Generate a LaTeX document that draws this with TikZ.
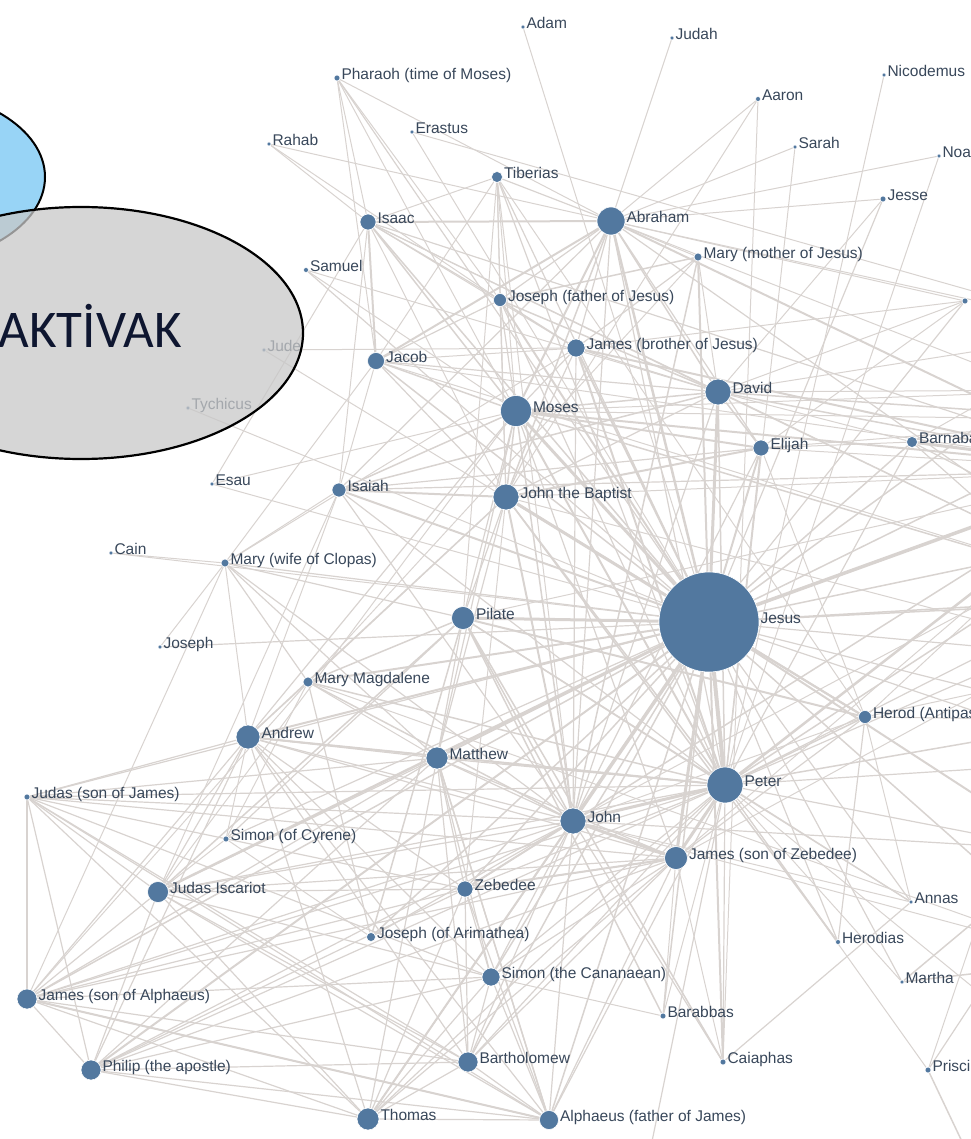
\documentclass[tikz,border=0pt]{standalone}
\usepackage{fontspec}
\setmainfont{Liberation Sans}
\newfontfamily\carl{Carlito}
\definecolor{edgec}{HTML}{D8D3D0}
\definecolor{nodec}{HTML}{52789F}
\definecolor{lblc}{HTML}{38475A}
\definecolor{grayell}{HTML}{C8C8C8}
\definecolor{blueell}{HTML}{98D4F6}
\definecolor{bigtxt}{HTML}{0E1630}
\pgfdeclarelayer{edgelayer}
\pgfdeclarelayer{front}
\pgfsetlayers{edgelayer,main,front}
\begin{document}
\begin{tikzpicture}[x=1pt,y=-1pt,
  v/.style={circle,fill=nodec,draw=white,line width=0.6pt,inner sep=0pt,minimum size=#1},
  lbl/.style={font=\fontsize{15.5}{17}\selectfont,text=lblc,inner sep=0pt,anchor=base west,xshift=1pt,yshift=-1.5pt},
  e/.style={draw=edgec,line width=1.2pt}]
\useasboundingbox (0,0) rectangle (970,1139);
% ---------------- nodes ----------------
\node[v=4,label={[lbl]east:Adam}] (adam) at (523,27) {};
\node[v=4,label={[lbl]east:Judah}] (judah) at (672,38) {};
\node[v=6,label={[lbl]east:Pharaoh (time of Moses)}] (pharaoh) at (337,78) {};
\node[v=4,label={[lbl]east:Nicodemus}] (nicodemus) at (884,75) {};
\node[v=5,label={[lbl]east:Aaron}] (aaron) at (758,99) {};
\node[v=4,label={[lbl]east:Rahab}] (rahab) at (269,144) {};
\node[v=4,label={[lbl]east:Erastus}] (erastus) at (412,132) {};
\node[v=4,label={[lbl]east:Sarah}] (sarah) at (795,147) {};
\node[v=4,label={[lbl]east:Noah}] (noah) at (939,156) {};
\node[v=11,label={[lbl]east:Tiberias}] (tiberias) at (497,177) {};
\node[v=6,label={[lbl]east:Jesse}] (jesse) at (883,199) {};
\node[v=16,label={[lbl]east:Isaac}] (isaac) at (368,222) {};
\node[v=28,label={[lbl]east:Abraham}] (abraham) at (611,221) {};
\node[v=5,label={[lbl]east:Samuel}] (samuel) at (306,270) {};
\node[v=8,label={[lbl]east:Mary (mother of Jesus)}] (marymother) at (698,257) {};
\node[v=13,label={[lbl]east:Joseph (father of Jesus)}] (josephf) at (500,300) {};
\node[v=6] (rdot) at (965,301) {};
\node[v=4,label={[lbl]east:Jude}] (jude) at (264,350) {};
\node[v=17,label={[lbl]east:Jacob}] (jacob) at (376,361) {};
\node[v=18,label={[lbl]east:James (brother of Jesus)}] (jamesb) at (576,348) {};
\node[v=26,label={[lbl]east:David}] (david) at (718,392) {};
\node[v=31,label={[lbl]east:Moses}] (moses) at (516,411) {};
\node[v=4,label={[lbl]east:Tychicus}] (tychicus) at (188,408) {};
\node[v=16,label={[lbl]east:Elijah}] (elijah) at (761,448) {};
\node[v=11,label={[lbl]east:Barnabas}] (barnabas) at (912,442) {};
\node[v=4,label={[lbl]east:Esau}] (esau) at (212,484) {};
\node[v=14,label={[lbl]east:Isaiah}] (isaiah) at (339,490) {};
\node[v=26,label={[lbl]east:John the Baptist}] (jbaptist) at (506,497) {};
\node[v=4,label={[lbl]east:Cain}] (cain) at (111,553) {};
\node[v=8,label={[lbl]east:Mary (wife of Clopas)}] (maryclopas) at (225,563) {};
\node[v=23,label={[lbl]east:Pilate}] (pilate) at (463,618) {};
\node[v=100,label={[lbl]east:Jesus}] (jesus) at (709,622) {};
\node[v=4,label={[lbl]east:Joseph}] (joseph) at (160,647) {};
\node[v=10,label={[lbl]east:Mary Magdalene}] (marymag) at (308,682) {};
\node[v=24,label={[lbl]east:Andrew}] (andrew) at (248,737) {};
\node[v=13,label={[lbl]east:Herod (Antipas)}] (herod) at (865,717) {};
\node[v=22,label={[lbl]east:Matthew}] (matthew) at (437,758) {};
\node[v=36,label={[lbl]east:Peter}] (peter) at (725,785) {};
\node[v=6,label={[lbl]east:Judas (son of James)}] (judasj) at (27,797) {};
\node[v=26,label={[lbl]east:John}] (john) at (573,821) {};
\node[v=6,label={[lbl]east:Simon (of Cyrene)}] (simonc) at (226,839) {};
\node[v=23,label={[lbl]east:James (son of Zebedee)}] (jamesz) at (676,858) {};
\node[v=21,label={[lbl]east:Judas Iscariot}] (judasi) at (158,892) {};
\node[v=16,label={[lbl]east:Zebedee}] (zebedee) at (465,889) {};
\node[v=4,label={[lbl]east:Annas}] (annas) at (911,902) {};
\node[v=9,label={[lbl]east:Joseph (of Arimathea)}] (josepha) at (371,937) {};
\node[v=5,label={[lbl]east:Herodias}] (herodias) at (838,942) {};
\node[v=18,label={[lbl]east:Simon (the Cananaean)}] (simoncan) at (491,977) {};
\node[v=4,label={[lbl]east:Martha}] (martha) at (902,982) {};
\node[v=20,label={[lbl]east:James (son of Alphaeus)}] (jamesa) at (27,999) {};
\node[v=6,label={[lbl]east:Barabbas}] (barabbas) at (663,1016) {};
\node[v=20,label={[lbl]east:Bartholomew}] (bartholomew) at (468,1062) {};
\node[v=6,label={[lbl]east:Caiaphas}] (caiaphas) at (723,1062) {};
\node[v=6,label={[lbl]east:Priscilla}] (priscilla) at (928,1070) {};
\node[v=20,label={[lbl]east:Philip (the apostle)}] (philip) at (91,1070) {};
\node[v=22,label={[lbl]east:Thomas}] (thomas) at (368,1119) {};
\node[v=19,label={[lbl]east:Alphaeus (father of James)}] (alphaeus) at (549,1120) {};
% off-picture ends
\coordinate (paul) at (1130,470);
\coordinate (timothy) at (1110,330);
\coordinate (silas) at (1090,600);
\coordinate (lazarus) at (1060,850);
\coordinate (maryb) at (1090,960);
\coordinate (apollos) at (1040,900);
\coordinate (aquila) at (985,1190);
\coordinate (cornelius) at (1100,720);
\coordinate (ananias) at (640,1200);
\coordinate (tabitha) at (1050,1050);
\coordinate (stephen) at (1150,600);
\coordinate (solomon) at (1120,420);
\coordinate (mark) at (1100,540);
\coordinate (titus) at (1090,390);
\coordinate (luke) at (1130,660);
\coordinate (philipev) at (1120,760);
% ---------------- edges ----------------
\begin{pgfonlayer}{edgelayer}
\foreach \t/\w in {adam/1, abraham/2.5, isaac/1.5, jacob/1.5, moses/3, david/3, elijah/2, isaiah/2, jbaptist/3, pilate/3, marymother/2, josephf/2, jamesb/2, tiberias/1.2, samuel/1.2, marymag/2, maryclopas/1.2, andrew/2, matthew/2, peter/4, john/3.5, jamesz/3, judasi/2.5, zebedee/1.5, josepha/1.5, simoncan/1.5, jamesa/1.5, barabbas/1.5, bartholomew/1.5, caiaphas/2, philip/2, thomas/2, alphaeus/1.5, herod/2, herodias/1.2, annas/1.2, martha/1.2, barnabas/1.5, simonc/1.2, judasj/1.2, joseph/1.2, jesse/1.2, cain/1, esau/1, rdot/1.2, paul/3.5, timothy/1.5, silas/1.5, lazarus/2, maryb/1.5, cornelius/1.2, jude/1, tychicus/1, pharaoh/1.2, erastus/1, stephen/1.5, solomon/1.5, mark/1.5, luke/1.2, philipev/1.2}
  \draw[e,line width=\w pt] (jesus) -- (\t);
\def\apos{peter,andrew,jamesz,john,philip,bartholomew,matthew,thomas,jamesa,simoncan,judasi,judasj,alphaeus,zebedee}
\foreach \a [count=\i] in \apos {
  \foreach \b [count=\j] in \apos {
    \ifnum\j>\i \draw[e] (\a) -- (\b); \fi
  }
}
\foreach \a/\b/\w in {peter/john/3, peter/jamesz/3, john/jamesz/3, peter/andrew/2, john/zebedee/2, jamesz/zebedee/2, jamesa/alphaeus/2, matthew/alphaeus/1.5}
  \draw[e,line width=\w pt] (\a) -- (\b);
\foreach \t/\w in {abraham/1.2, moses/2, david/1.5, jbaptist/1.5, pilate/1.5, caiaphas/1.2, annas/1.2, herod/1.5, marymag/1.5, noah/1, sarah/1, nicodemus/1, paul/2.5, barnabas/1.2, josephf/1.2, jamesb/2, elijah/1.5, isaiah/1.2, tiberias/1.2, herodias/1, barabbas/1, cornelius/1.5, silas/1.2, ananias/1.2, martha/1, priscilla/1, lazarus/1.2, tabitha/1, mark/1.5, stephen/1.2, philipev/1.2}
  \draw[e,line width=\w pt] (peter) -- (\t);
\foreach \t/\w in {marymag/1.5, maryclopas/1.2, marymother/1.5, moses/1.5, jbaptist/2, pilate/1.5, abraham/1.2, isaiah/1.2, caiaphas/1.2, annas/1, josepha/1.2, elijah/1.2, david/1.2, tiberias/1, paul/1.5, jamesb/1.2, herod/1, lazarus/1.2, maryb/1, mark/1}
  \draw[e,line width=\w pt] (john) -- (\t);
\foreach \t/\w in {abraham/2, isaac/1.5, jacob/1.5, david/1.5, elijah/2, isaiah/1.5, pharaoh/1, jbaptist/1.5, pilate/1.2, josephf/1.2, jamesb/1.2, tiberias/1, samuel/1, esau/1, paul/2, matthew/1.2, andrew/1.2, judasi/1, jamesz/1.2, stephen/1.5, solomon/1, titus/1}
  \draw[e,line width=\w pt] (moses) -- (\t);
\foreach \t/\w in {isaac/2, jacob/2, david/1.5, sarah/1, noah/1, jesse/1, judah/1, aaron/1, tiberias/1.2, josephf/1.2, jamesb/1.2, marymother/1, isaiah/1.2, jbaptist/1.5, rahab/1, pharaoh/1, paul/2, rdot/1, elijah/1.2, timothy/1, stephen/1.2, solomon/1}
  \draw[e,line width=\w pt] (abraham) -- (\t);
\foreach \t/\w in {isaac/1.2, jacob/1.2, jesse/1, samuel/1, elijah/1.5, isaiah/1.5, jbaptist/1.2, josephf/1.5, jamesb/1.2, paul/1.5, barnabas/1, timothy/1, rdot/1, marymother/1, solomon/1.5, stephen/1.2, titus/1}
  \draw[e,line width=\w pt] (david) -- (\t);
\foreach \t/\w in {jacob/2, tiberias/1, josephf/1.2, rahab/1, pharaoh/1, jamesb/1, isaiah/1, jbaptist/1, paul/1.2, stephen/1}
  \draw[e,line width=\w pt] (isaac) -- (\t);
\foreach \t/\w in {josephf/1.2, jbaptist/1.2, isaiah/1, pharaoh/1, jamesb/1, tiberias/1, paul/1, stephen/1}
  \draw[e,line width=\w pt] (jacob) -- (\t);
\foreach \t/\w in {jbaptist/2, isaiah/1.2, herod/1, paul/1, barnabas/1, rdot/1, solomon/1}
  \draw[e,line width=\w pt] (elijah) -- (\t);
\foreach \t/\w in {isaiah/2, herod/2, herodias/1.5, pilate/1.2, andrew/1.5, matthew/1.2, zebedee/1, marymag/1, tiberias/1, josephf/1.2, jamesb/1.2, aaron/1, paul/1, luke/1}
  \draw[e,line width=\w pt] (jbaptist) -- (\t);
\foreach \t/\w in {herod/2, barabbas/1.5, caiaphas/1.5, annas/1.2, josepha/1.5, marymag/1.5, maryclopas/1.2, simonc/1.2, judasi/1.5, tiberias/1, matthew/1.2, paul/1}
  \draw[e,line width=\w pt] (pilate) -- (\t);
\foreach \t/\w in {maryclopas/1.2, josepha/1.2, jamesa/1, simonc/1, andrew/1, matthew/1, marymother/1, maryb/1}
  \draw[e,line width=\w pt] (marymag) -- (\t);
\foreach \t/\w in {joseph/1, isaiah/1, jacob/1, andrew/1, matthew/1.2, jamesa/1, jamesb/1, cain/1}
  \draw[e,line width=\w pt] (maryclopas) -- (\t);
\foreach \a/\b/\w in {jude/jamesb/1, josephf/jamesb/1.5, josephf/marymother/1.5, josephf/tiberias/1, josephf/rahab/1, josephf/pharaoh/1, jamesb/paul/2, jamesb/rdot/1, jamesb/marymother/1.2, herod/herodias/1.2, herod/jamesz/1.2, herod/paul/1, herod/annas/1, caiaphas/annas/1.2, caiaphas/jamesz/1, caiaphas/aaron/1, barabbas/simoncan/1, barabbas/jamesz/1, martha/lazarus/1.5, martha/maryb/1.5, priscilla/aquila/1.5, priscilla/apollos/1.2, priscilla/paul/1, barnabas/paul/3, barnabas/silas/1.2, barnabas/timothy/1, barnabas/mark/1.2, simonc/josepha/1, simonc/judasi/1, erastus/timothy/1, isaiah/paul/1.2, isaiah/andrew/1, isaiah/judasi/1, andrew/simonc/1, tiberias/herod/1, esau/isaac/1, jamesz/paul/1, jamesz/stephen/1, herod/luke/1, herod/cornelius/1}
  \draw[e,line width=\w pt] (\a) -- (\b);
\end{pgfonlayer}
% ---------------- overlay shapes ----------------
\begin{pgfonlayer}{front}
\draw[fill=blueell,line width=2pt] (-100,177) ellipse [x radius=145,y radius=88];
\draw[fill=grayell,fill opacity=0.75,draw opacity=1,line width=2.2pt] (81,333) ellipse [x radius=222,y radius=126];
\node[anchor=base east,inner sep=0pt,text=bigtxt,font=\carl\fontsize{53}{57}\selectfont] (big) at (182,347) {AKTİVAK};
\end{pgfonlayer}
\end{tikzpicture}
\end{document}
